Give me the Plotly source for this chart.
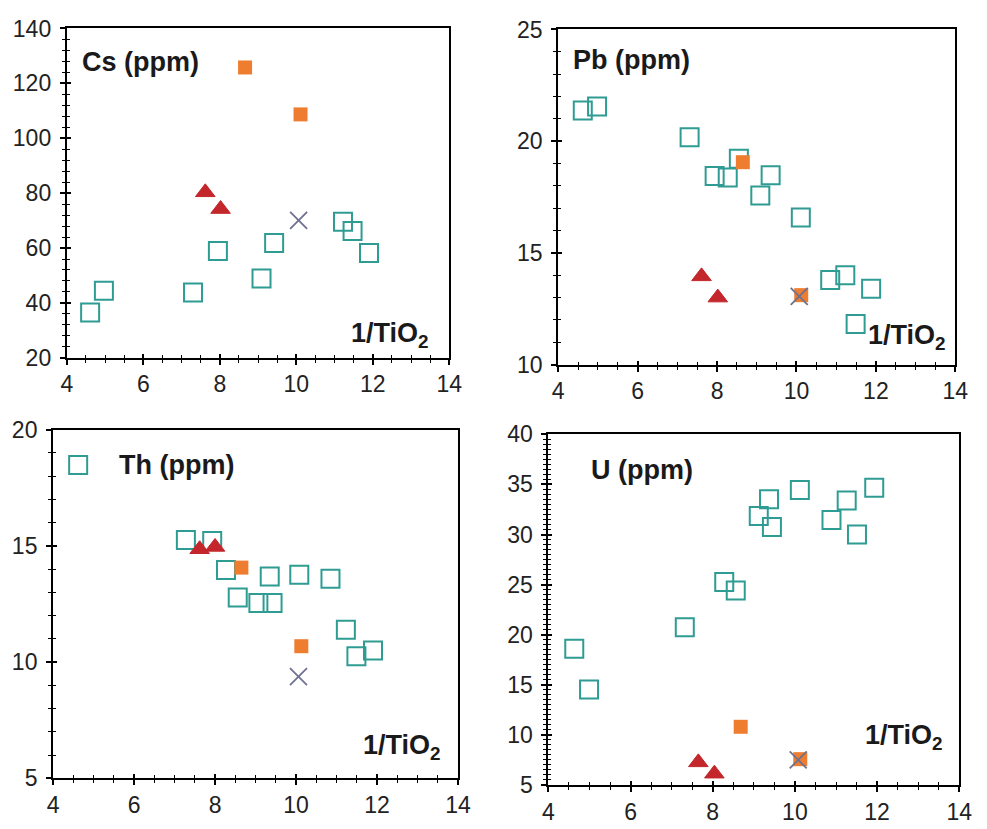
import plotly.graph_objects as go

# Trace-element concentrations (ppm) against 1/TiO2 for four elements.
# Each group: open teal squares, orange filled squares, red triangles, grey crosses.

# --- Cs ---
cs_sq_x = [4.61, 4.97, 7.30, 7.95, 9.09, 9.42, 11.22, 11.47, 11.90]
cs_sq_y = [36.5, 44.4, 43.8, 58.9, 48.9, 61.8, 69.6, 66.2, 58.2]
cs_or_x = [8.66, 10.11]
cs_or_y = [125.8, 108.7]
cs_tri_x = [7.62, 8.02]
cs_tri_y = [80.3, 74.2]
cs_x_x = [10.06]
cs_x_y = [70.1]

# --- Pb ---
pb_sq_x = [4.62, 4.98, 7.31, 7.94, 8.27, 8.55, 9.35, 9.09, 10.11, 10.85, 11.23, 11.88, 11.49]
pb_sq_y = [21.37, 21.55, 20.18, 18.44, 18.37, 19.21, 18.47, 17.57, 16.59, 13.79, 14.0, 13.4, 11.82]
pb_or_x = [8.65, 10.12]
pb_or_y = [19.06, 13.11]
pb_tri_x = [7.61, 8.02]
pb_tri_y = [13.95, 13.0]
pb_x_x = [10.07]
pb_x_y = [13.05]

# --- Th ---
th_sq_x = [4.62, 7.28, 7.93, 8.27, 8.56, 9.07, 9.42, 9.35, 10.08, 10.85, 11.23, 11.49, 11.90]
th_sq_y = [18.47, 15.25, 15.21, 13.96, 12.78, 12.54, 12.54, 13.68, 13.75, 13.58, 11.39, 10.25, 10.49]
th_or_x = [8.65, 10.13]
th_or_y = [14.06, 10.68]
th_tri_x = [7.62, 8.00]
th_tri_y = [14.85, 14.95]
th_x_x = [10.06]
th_x_y = [9.37]

# --- U ---
u_sq_x = [4.63, 4.99, 7.32, 8.28, 8.56, 9.12, 9.37, 9.44, 10.12, 10.89, 11.26, 11.51, 11.93]
u_sq_y = [18.61, 14.52, 20.74, 25.26, 24.42, 31.84, 33.52, 30.74, 34.45, 31.45, 33.39, 30.0, 34.68]
u_or_x = [8.68, 10.13]
u_or_y = [10.81, 7.58]
u_tri_x = [7.65, 8.04]
u_tri_y = [7.26, 6.13]
u_x_x = [10.08]
u_x_y = [7.5]

panel_titles = ["Cs (ppm)", "Pb (ppm)", "Th (ppm)", "U (ppm)"]
x_label = "1/TiO<sub>2</sub>"
x_range = [4, 14]
y_ranges = [[20, 140], [10, 25], [5, 20], [5, 40]]
y_dticks = [20, 5, 5, 5]
y_minor = [4, 1, 1, 0.5]

groups = [
    (cs_sq_x, cs_sq_y, cs_or_x, cs_or_y, cs_tri_x, cs_tri_y, cs_x_x, cs_x_y),
    (pb_sq_x, pb_sq_y, pb_or_x, pb_or_y, pb_tri_x, pb_tri_y, pb_x_x, pb_x_y),
    (th_sq_x, th_sq_y, th_or_x, th_or_y, th_tri_x, th_tri_y, th_x_x, th_x_y),
    (u_sq_x, u_sq_y, u_or_x, u_or_y, u_tri_x, u_tri_y, u_x_x, u_x_y),
]

# plot-area domains (paper fractions)
x_domains = [[0.0628, 0.458], [0.5704, 0.9807], [0.0486, 0.467], [0.5603, 0.9848]]
y_domains = [[0.5706, 0.9807], [0.5621, 0.9795], [0.047, 0.4813], [0.0386, 0.4753]]

# title and x-label placement inside each plot area (axis-domain fractions)
title_pos = [(0.034, 0.897), (0.032, 0.91), (0.157, 0.897), (0.098, 0.898)]
xlab_pos = [(0.952, 0.068), (0.982, 0.081), (0.963, 0.089), (0.966, 0.138)]

TEAL = "#2f9c93"
ORANGE = "#ef7d30"
RED = "#c3262b"
GREY = "#6f7190"
FONT = "Liberation Sans, Arial, sans-serif"


def ax_id(letter, n):
    return letter if n == 1 else f"{letter}{n}"


fig = go.Figure()

for i, (sx, sy, ox, oy, tx, ty, xx, xy) in enumerate(groups):
    n = i + 1
    xa, ya = ax_id("x", n), ax_id("y", n)
    fig.add_trace(go.Scatter(x=sx, y=sy, xaxis=xa, yaxis=ya, mode="markers",
                             marker=dict(symbol="square-open", size=18, color=TEAL,
                                         line=dict(width=2, color=TEAL)),
                             cliponaxis=False, showlegend=False))
    fig.add_trace(go.Scatter(x=ox, y=oy, xaxis=xa, yaxis=ya, mode="markers",
                             marker=dict(symbol="square", size=14, color=ORANGE),
                             cliponaxis=False, showlegend=False))
    fig.add_trace(go.Scatter(x=tx, y=ty, xaxis=xa, yaxis=ya, mode="markers",
                             marker=dict(symbol="triangle-up", size=17, color=RED,
                                         line=dict(width=1, color=RED)),
                             cliponaxis=False, showlegend=False))
    fig.add_trace(go.Scatter(x=xx, y=xy, xaxis=xa, yaxis=ya, mode="markers",
                             marker=dict(symbol="x-thin", size=17, color=GREY,
                                         line=dict(width=1.8, color=GREY)),
                             cliponaxis=False, showlegend=False))

    key = "" if n == 1 else str(n)
    common = dict(showgrid=False, zeroline=False, linecolor="black", linewidth=2,
                  tickcolor="black", tickwidth=1.5,
                  tickfont=dict(family=FONT, size=23, color="#222222"))
    fig.layout[f"xaxis{key}"] = dict(
        domain=x_domains[i], anchor=ya, range=x_range, dtick=2, tick0=0,
        ticks="outside", ticklen=5, showline=True, mirror=True,
        minor=dict(dtick=0.5, ticks="outside", ticklen=3, tickcolor="black", tickwidth=1.2),
        **common)
    fig.layout[f"yaxis{key}"] = dict(
        domain=y_domains[i], anchor=xa, range=y_ranges[i], dtick=y_dticks[i], tick0=0,
        ticks="outside", ticklen=5, showline=True, mirror=True, ticklabelstandoff=4,
        minor=dict(dtick=y_minor[i], ticks="outside", ticklen=3, tickcolor="black", tickwidth=1.2),
        **common)
    # inward half of the crossing tick marks
    m = n + 4
    xo, yo = ax_id("x", m), ax_id("y", m)
    fig.layout[f"xaxis{m}"] = dict(
        overlaying=xa, anchor=ya, range=x_range, dtick=2, tick0=0, ticks="inside", ticklen=4,
        showticklabels=False, showline=False, showgrid=False, zeroline=False,
        tickcolor="black", tickwidth=1.5,
        minor=dict(dtick=0.5, ticks="inside", ticklen=3, tickcolor="black", tickwidth=1.2))
    fig.layout[f"yaxis{m}"] = dict(
        overlaying=ya, anchor=xa, range=y_ranges[i], dtick=y_dticks[i], tick0=0, ticks="inside",
        ticklen=4, showticklabels=False, showline=False, showgrid=False, zeroline=False,
        tickcolor="black", tickwidth=1.5,
        minor=dict(dtick=y_minor[i], ticks="inside", ticklen=3, tickcolor="black", tickwidth=1.2))
    # placeholder trace so the overlay axes are drawn
    fig.add_trace(go.Scatter(x=[None], y=[None], xaxis=xo, yaxis=yo,
                             mode="markers", showlegend=False, hoverinfo="skip"))

    tx0, ty0 = title_pos[i]
    fig.add_annotation(x=tx0, y=ty0, xref=f"{xa} domain", yref=f"{ya} domain",
                       text=f"<b>{panel_titles[i]}</b>", showarrow=False,
                       xanchor="left", yanchor="middle",
                       font=dict(family=FONT, size=27, color="#1a1a1a"))
    lx, ly = xlab_pos[i]
    fig.add_annotation(x=lx, y=ly, xref=f"{xa} domain", yref=f"{ya} domain",
                       text=f"<b>{x_label}</b>", showarrow=False,
                       xanchor="right", yanchor="middle",
                       font=dict(family=FONT, size=27, color="#1a1a1a"))

fig.update_layout(width=987, height=829, margin=dict(l=0, r=0, t=0, b=0),
                  paper_bgcolor="white", plot_bgcolor="white", showlegend=False)

fig.write_html("out.html")
